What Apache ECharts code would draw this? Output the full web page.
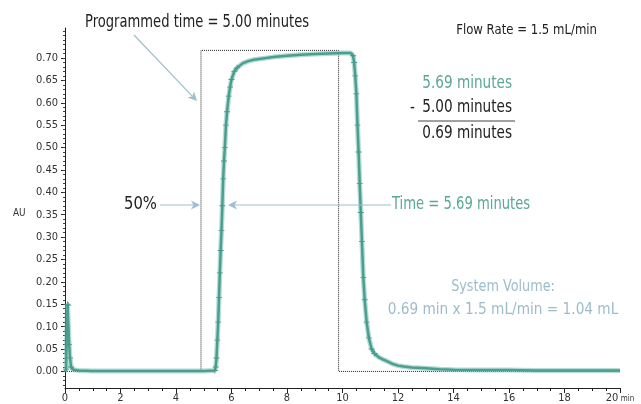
<!DOCTYPE html>
<html>
<head>
<meta charset="utf-8">
<script src="https://cdn.jsdelivr.net/npm/echarts@6/dist/echarts.min.js"></script>
<style>html,body{margin:0;padding:0;background:#fff}#c{width:641px;height:404px}</style>
</head>
<body>
<div id="c"></div>
<script>
// ---- data ----
var timeMin = [0,0.04,0.07,0.09,0.12,0.15,0.18,0.22,0.3,0.5,1,2,3,4,5,5.4,
  5.43,5.46,5.49,5.52,5.55,5.58,5.61,5.64,5.67,5.70,5.73,5.76,5.80,5.84,5.90,5.95,6.0,6.1,6.2,6.4,6.6,6.8,7.0,7.5,8,8.5,9,9.5,10,10.3,
  10.38,10.42,10.46,10.5,10.54,10.58,10.62,10.66,10.70,10.75,10.80,10.87,10.95,11.05,11.15,11.3,11.45,11.6,11.8,12,12.2,12.5,13,13.5,14,15,16,17,18,19,20];
var absorbance = [0,0.005,0.09,0.15,0.148,0.06,0.03,0.01,0.004,0.002,0.001,0.001,0.001,0.001,0.001,0.002,
  0.01,0.03,0.07,0.11,0.165,0.22,0.27,0.315,0.37,0.43,0.47,0.50,0.55,0.58,0.615,0.635,0.652,0.67,0.678,0.688,0.693,0.696,0.698,0.702,0.705,0.707,0.709,0.710,0.711,0.711,
  0.705,0.69,0.66,0.62,0.55,0.49,0.42,0.355,0.29,0.21,0.16,0.11,0.075,0.05,0.04,0.032,0.027,0.023,0.017,0.013,0.011,0.009,0.007,0.005,0.004,0.003,0.003,0.002,0.002,0.002,0.002];
var programTime = [0,4.9,4.9,9.86,9.86,20];
var programAU   = [0,0,0.717,0.717,0,0];
var yTickValues = [0,0.05,0.10,0.15,0.20,0.25,0.30,0.35,0.40,0.45,0.50,0.55,0.60,0.65,0.70];
var yMinorValues = [];
for (var i = -3; i <= 76; i++) yMinorValues.push(i / 100);
var xTickLabels = [0,2,4,6,8,10,12,14,16,18,20];

var FONT = "'Liberation Sans Narrow','DejaVu Sans Condensed',sans-serif";
var TEAL = '#4c9f8f', TEAL_TXT = '#5aa797', ARROW = '#9cbfcf', GRAYBLUE = '#9dbccb';

// markers only on steep parts (flat parts look like a solid thick line)
var signal = timeMin.map(function(t,i){
  var a = absorbance[i];
  var steep = (t > 0.03 && t < 0.25) || (t >= 5.4 && t <= 6.2) || (t >= 10.38 && t <= 11.2);
  return {value:[t, a], symbolSize: steep ? 6 : 0};
});
var signalBand = timeMin.map(function(t,i){ return [t, absorbance[i]]; });
var program = programTime.map(function(t,i){ return [t, programAU[i]]; });

function arrow(x1,y1,x2,y2){
  var dx=x2-x1, dy=y2-y1, L=Math.sqrt(dx*dx+dy*dy), ux=dx/L, uy=dy/L, px=-uy, py=ux;
  var len=9, w=4.5, back=6.5;
  return [
    {type:'line', shape:{x1:x1,y1:y1,x2:x2-ux*back,y2:y2-uy*back}, style:{stroke:ARROW,lineWidth:1.2}, z:10},
    {type:'polygon', shape:{points:[[x2,y2],[x2-ux*len+px*w,y2-uy*len+py*w],[x2-ux*back,y2-uy*back],[x2-ux*len-px*w,y2-uy*len-py*w]]}, style:{fill:ARROW}, z:10}
  ];
}
function txt(x,y,s,size,color,align,sx){
  return {type:'text', x:x, y:y, scaleX:sx||1, style:{text:s, font:size+'px '+FONT, fill:color, align:align||'left', verticalAlign:'middle'}, z:10};
}

var chart = echarts.init(document.getElementById('c'), null, {renderer:'canvas'});
var graphics = [].concat(
  arrow(134,35,197,101),
  arrow(160,205,200,205),
  arrow(391,205,228,205),
  [
    txt(85,22,'Programmed time = 5.00 minutes',18,'#222','left',0.81),
    txt(597,30,'Flow Rate = 1.5 mL/min',14,'#222','right',0.93),
    txt(512,84,'5.69 minutes',17,TEAL_TXT,'right',0.89),
    txt(410,108,'-',17,'#222','left',0.89),
    txt(512,108,'5.00 minutes',17,'#222','right',0.89),
    {type:'line', shape:{x1:418,y1:121,x2:515,y2:121}, style:{stroke:'#444',lineWidth:1}, z:10},
    txt(512,134,'0.69 minutes',17,'#222','right',0.89),
    txt(124,205,'50%',17,'#222','left',0.97),
    txt(392,205,'Time = 5.69 minutes',17,TEAL_TXT,'left',0.86),
    txt(503,287,'System Volume:',16,GRAYBLUE,'center',0.89),
    txt(503,310,'0.69 min x 1.5 mL/min = 1.04 mL',16,GRAYBLUE,'center',0.95),
    txt(13,213,'AU',11,'#333','left',0.9)
  ]
);

chart.setOption({
  animation:false,
  backgroundColor:'#fff',
  grid:{left:65,right:21,top:28,bottom:15},
  xAxis:{
    type:'value', min:0, max:20, interval:2,
    axisLine:{onZero:false, lineStyle:{color:'#222',width:1}},
    axisTick:{show:true, length:5, lineStyle:{color:'#222'}},
    minorTick:{show:true, splitNumber:4, length:3, lineStyle:{color:'#222'}},
    splitLine:{show:false},
    axisLabel:{margin:5, fontSize:11, color:'#333', fontFamily:FONT,
      formatter:function(v){ return v===20 ? '20{u| min}' : (xTickLabels.indexOf(v)>=0 ? String(v) : ''); },
      rich:{u:{fontSize:8, fontFamily:FONT, color:'#333'}}}
  },
  yAxis:[{
    type:'value', min:-0.037, max:0.767,
    axisLine:{show:true, lineStyle:{color:'#222',width:1}},
    axisTick:{show:true, length:4, customValues:yTickValues, lineStyle:{color:'#222'}},
    splitLine:{show:false},
    axisLabel:{margin:7, fontSize:11, color:'#333', fontFamily:FONT, customValues:yTickValues,
      formatter:function(v){ return v.toFixed(2); }}
  },{
    type:'value', min:-0.037, max:0.767, position:'left',
    axisLine:{show:false},
    axisTick:{show:true, length:2, customValues:yMinorValues, lineStyle:{color:'#444'}},
    axisLabel:{show:false, customValues:yMinorValues},
    splitLine:{show:false}
  }],
  series:[
    {type:'line', data:program, showSymbol:false, z:1,
      lineStyle:{color:'#222', width:1, type:'dotted'}},
    {type:'line', data:signalBand, showSymbol:false, z:2,
      lineStyle:{color:'rgba(120,192,178,0.55)', width:5}},
    {type:'line', data:signal, z:3, symbol:'path://M-0.7,-5H0.7V-0.7H5V0.7H0.7V5H-0.7V0.7H-5V-0.7H-0.7Z',
      showAllSymbol:true, itemStyle:{color:'#469a8a'},
      lineStyle:{color:TEAL, width:2.5}}
  ],
  graphic:graphics
});
</script>
</body>
</html>
